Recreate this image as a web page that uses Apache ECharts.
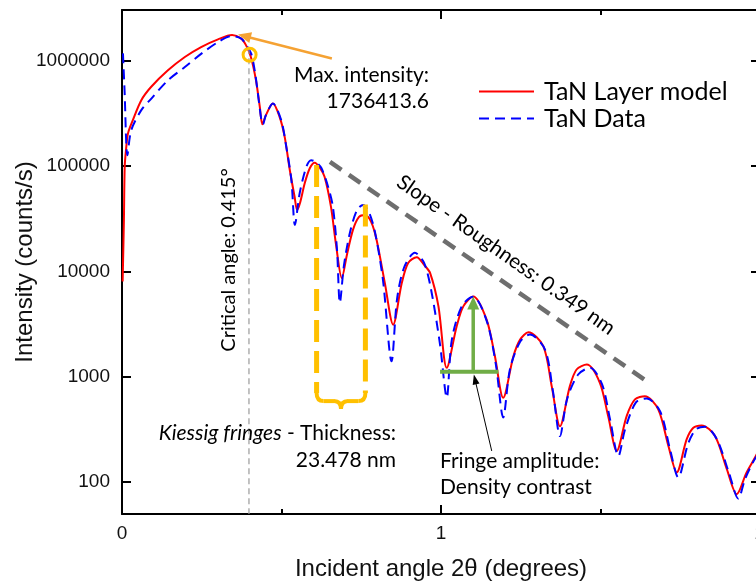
<!DOCTYPE html>
<html>
<head>
<meta charset="utf-8">
<script src="https://cdn.jsdelivr.net/npm/echarts/dist/echarts.min.js"></script>
<style>html,body{margin:0;padding:0;background:#fff}#c{width:756px;height:583px}</style>
</head>
<body>
<div id="c"></div>
<script>
// ---- data ----
const modelX = [0.002,0.006,0.0085,0.0125,0.019,0.034,0.0605,0.091,0.144,0.197,0.248,0.301,0.345,0.373,0.389,0.404,0.420,0.432,0.440,0.451,0.473,0.494,0.510,0.526,0.541,0.549,0.558,0.573,0.589,0.604,0.621,0.635,0.655,0.671,0.689,0.705,0.724,0.743,0.762,0.781,0.798,0.824,0.850,0.877,0.897,0.924,0.947,0.966,0.992,1.018,1.049,1.070,1.101,1.143,1.169,1.195,1.227,1.248,1.274,1.321,1.347,1.373,1.404,1.425,1.457,1.498,1.524,1.551,1.582,1.608,1.639,1.681,1.713,1.739,1.770,1.791,1.817,1.859,1.896,1.927,1.958,1.987,2.0];
const modelY = [8000,30700,98000,141000,204000,271000,419000,559000,804000,1075000,1336000,1580000,1736414,1615000,1386000,1075000,647000,362000,248000,302000,389000,291000,188000,91200,50900,38200,44400,68700,95200,107000,95200,78800,41000,17800,8630,14300,24700,32800,34200,29400,19900,7730,3120,7730,12000,13600,11500,9620,4650,1216,3000,4650,5780,3480,1564,632,1564,2250,2640,1945,815,340,815,1172,1306,877,424,198,424,610,655,490,220,124,255,329,346,274,133,77,124,177,214];

const dataX = [0.003,0.008,0.017,0.029,0.0605,0.092,0.144,0.197,0.249,0.301,0.343,0.374,0.390,0.405,0.416,0.426,0.437,0.442,0.451,0.473,0.499,0.515,0.531,0.542,0.557,0.578,0.593,0.608,0.625,0.646,0.661,0.674,0.683,0.696,0.715,0.737,0.756,0.774,0.793,0.818,0.845,0.862,0.884,0.918,0.947,0.969,0.997,1.018,1.034,1.066,1.101,1.144,1.172,1.195,1.216,1.248,1.279,1.326,1.351,1.373,1.395,1.430,1.467,1.505,1.530,1.556,1.577,1.611,1.645,1.687,1.718,1.744,1.774,1.799,1.828,1.865,1.903,1.932,1.953,1.978,2.0];
const dataY = [1164000,520000,126000,218000,337000,434000,647000,864000,1157000,1490000,1698000,1604000,1386000,1157000,804000,484000,271000,248000,302000,389000,271000,151000,73300,27500,54900,98000,113000,108500,95200,63400,41000,16000,5040,11500,23600,38200,42500,36500,23600,8310,1403,5380,10800,15000,12000,6680,2020,637,2250,4720,5740,3330,1306,412,1172,2150,2510,1810,726,274,610,1050,1216,845,394,177,317,571,622,469,205,111,229,317,336,255,122,70,107,155,196];

const seriesNames = ['TaN Layer model', 'TaN Data'];
const xLabelTicks = [0, 1, 2];
const yLabelTicks = [100, 1000, 10000, 100000, 1000000];

// annotation anchors (in data units)
const critAngleX = 0.398;
const maxRing = [0.400, 1130000];
const maxArrow = [[0.658, 1040000], [0.364, 1760000]];
const kiessigLines = [[0.610, 102000], [0.763, 43000]];
const kiessigBottom = 700;
const slopeLine = [[0.652, 109000], [1.650, 887]];
const greenBar = {y: 1114, x1: 0.997, x2: 1.180, xa: 1.101, top: 5780};
const blackArrow = [[1.159, 198], [1.103, 1050]];

// ---- chart ----
const chart = echarts.init(document.getElementById('c'), null, {renderer: 'canvas'});
const AX = '#000';
const SANS = "'Liberation Sans', Arial, sans-serif";
const CAL = "Lato, 'Open Sans', sans-serif";

const xBase = {
  type: 'value', min: 0, max: 2, interval: 1,
  axisLine: {show: true, onZero: false, lineStyle: {color: AX, width: 2}},
  axisTick: {show: true, inside: true, length: 9, lineStyle: {color: AX, width: 2}},
  minorTick: {show: true, splitNumber: 2, length: 5, lineStyle: {color: AX, width: 2}},
  splitLine: {show: false}, minorSplitLine: {show: false}
};
const yBase = {
  type: 'log', logBase: 10, min: 50, max: 3000000,
  axisLine: {show: true, onZero: false, lineStyle: {color: AX, width: 2}},
  axisTick: {show: true, inside: true, length: 9, lineStyle: {color: AX, width: 2}},
  splitLine: {show: false}
};

const option = {
  animation: false,
  backgroundColor: '#fff',
  grid: {left: 122, right: -4, top: 10, bottom: 69, containLabel: false, outerBoundsMode: 'none'},
  legend: {
    orient: 'vertical', left: 478, top: 79, padding: 0,
    itemWidth: 55, itemHeight: 27, itemGap: 2,
    itemStyle: {opacity: 0},
    textStyle: {fontFamily: CAL, fontSize: 25, color: '#000', padding: [0, 0, 0, 5]},
    data: seriesNames
  },
  xAxis: [
    Object.assign({}, xBase, {
      position: 'bottom',
      axisLabel: {
        fontSize: 19, fontFamily: SANS, color: '#111', margin: 10,
        formatter: v => xLabelTicks.indexOf(Math.round(v * 1000) / 1000) >= 0 ? String(v) : ''
      },
      name: 'Incident angle 2θ (degrees)', nameLocation: 'middle', nameGap: 43, nameMoveOverlap: false,
      nameTextStyle: {fontSize: 24, fontFamily: SANS, color: '#111'}
    }),
    Object.assign({}, xBase, {position: 'top', axisLabel: {show: false}})
  ],
  yAxis: [
    Object.assign({}, yBase, {
      position: 'left',
      axisLabel: {
        fontSize: 19, fontFamily: SANS, color: '#111', margin: 12,
        formatter: v => {
          const r = Math.round(v);
          return yLabelTicks.some(t => Math.abs(t - v) / t < 1e-6) ? String(r) : '';
        }
      },
      name: 'Intensity (counts/s)', nameLocation: 'middle', nameGap: 85, nameMoveOverlap: false,
      nameTextStyle: {fontSize: 24, fontFamily: SANS, color: '#111'}
    }),
    Object.assign({}, yBase, {position: 'right', axisLabel: {show: false}})
  ],
  series: [
    {
      name: seriesNames[0], type: 'line', xAxisIndex: 0, yAxisIndex: 0,
      data: modelX.map((x, i) => [x, modelY[i]]),
      symbol: 'none', showSymbol: false, smooth: 0.3,
      lineStyle: {color: '#FF0000', width: 2}, itemStyle: {color: '#FF0000'}, z: 2
    },
    {
      name: seriesNames[1], type: 'line', xAxisIndex: 0, yAxisIndex: 0,
      data: dataX.map((x, i) => [x, dataY[i]]),
      symbol: 'none', showSymbol: false, smooth: 0.3,
      lineStyle: {color: '#0000FF', width: 2, type: [10, 6]}, itemStyle: {color: '#0000FF'}, z: 3
    }
  ]
};
chart.setOption(option);

// ---- annotations positioned through the chart's own scales ----
const P = (x, y) => chart.convertToPixel({seriesIndex: 0}, [x, y]);
function seg(a, b, stroke, w, dash, z) {
  return {type: 'line', z: z || 20, silent: true,
    shape: {x1: a[0], y1: a[1], x2: b[0], y2: b[1]},
    style: {stroke: stroke, lineWidth: w, lineDash: dash || null, fill: null}};
}
function arrow(from, to, stroke, w, len, wid) {
  const dx = to[0] - from[0], dy = to[1] - from[1];
  const d = Math.hypot(dx, dy), ux = dx / d, uy = dy / d;
  const bx = to[0] - ux * len, by = to[1] - uy * len;
  return [
    seg(from, [bx + ux * 1, by + uy * 1], stroke, w),
    {type: 'polygon', z: 21, silent: true,
      shape: {points: [[to[0], to[1]], [bx - uy * wid / 2, by + ux * wid / 2], [bx + uy * wid / 2, by - ux * wid / 2]]},
      style: {fill: stroke}}
  ];
}
function txt(x, y, text, size, align, rot, extra) {
  return Object.assign({type: 'text', x: x, y: y, rotation: rot || 0, z: 30, silent: true,
    style: {text: text, fontSize: size, fontFamily: CAL, fill: '#000',
      align: align, textAlign: align, verticalAlign: 'middle', textVerticalAlign: 'middle'}}, extra || {});
}

const els = [];
// critical angle
els.push(seg(P(critAngleX, 1300000), P(critAngleX, 50), '#9a9a9a', 1.2, [6, 4], 5));
// ring at critical angle
const rp = P(maxRing[0], maxRing[1]);
els.push({type: 'circle', z: 22, silent: true, shape: {cx: rp[0], cy: rp[1], r: 6.5},
  style: {fill: null, stroke: '#FFC000', lineWidth: 3}});
// max intensity arrow
arrow(P(maxArrow[0][0], maxArrow[0][1]), P(maxArrow[1][0], maxArrow[1][1]), '#F5A233', 2.5, 13, 11).forEach(e => els.push(e));
// Kiessig dashed lines + brace
const kb = kiessigLines.map(k => [P(k[0], k[1]), P(k[0], kiessigBottom)]);
kb.forEach(p => els.push(seg(p[0], p[1], '#FFC000', 5, [22, 9], 6)));
(function brace() {
  const L = kb[0][1][0], R = kb[1][1][0], y0 = kb[0][1][1], M = (L + R) / 2;
  const yb = y0 + 8, yt = y0 + 16, c = '#FFC000', w = 4;
  const bz = (x1, y1, cx, cy, x2, y2) => ({type: 'bezierCurve', z: 6, silent: true,
    shape: {x1: x1, y1: y1, cpx1: cx, cpy1: cy, x2: x2, y2: y2},
    style: {stroke: c, lineWidth: w, fill: null}});
  els.push(bz(L, y0, L, yb, L + 7, yb));
  els.push(seg([L + 7, yb], [M - 7, yb], c, w, null, 6));
  els.push(bz(M - 7, yb, M, yb, M, yt));
  els.push(bz(M, yt, M, yb, M + 7, yb));
  els.push(seg([M + 7, yb], [R - 7, yb], c, w, null, 6));
  els.push(bz(R - 7, yb, R, yb, R, y0));
})();
// slope line
els.push(seg(P(slopeLine[0][0], slopeLine[0][1]), P(slopeLine[1][0], slopeLine[1][1]), '#6E6E6E', 4.5, [14, 9], 7));
// green amplitude marker
els.push(seg(P(greenBar.x1, greenBar.y), P(greenBar.x2, greenBar.y), '#70AD47', 4, null, 8));
arrow(P(greenBar.xa, greenBar.y), P(greenBar.xa, greenBar.top), '#70AD47', 3.5, 13, 12).forEach(e => { e.z = 8; els.push(e); });
// black pointer arrow
arrow(P(blackArrow[0][0], blackArrow[0][1]), P(blackArrow[1][0], blackArrow[1][1]), '#000', 1, 10, 7).forEach(e => els.push(e));

// texts
els.push(txt(429, 75, 'Max. intensity:', 21, 'right'));
els.push(txt(429, 101, '1736413.6', 21, 'right'));
els.push(txt(229, 260, 'Critical angle: 0.415°', 20, 'center', Math.PI / 2));
els.push(txt(506, 255, 'Slope - Roughness: 0.349 nm', 20.5, 'center', -Math.atan2(223, 317)));
els.push({type: 'text', x: 396, y: 433, z: 30, silent: true,
  style: {text: '{i|Kiessig fringes} - Thickness:', fontSize: 21, fontFamily: CAL, fill: '#000',
    align: 'right', textAlign: 'right', verticalAlign: 'middle', textVerticalAlign: 'middle',
    rich: {i: {fontStyle: 'italic', fontSize: 21, fontFamily: CAL, fill: '#000'}}}});
els.push(txt(396, 460, '23.478 nm', 21, 'right'));
els.push(txt(440, 461, 'Fringe amplitude:', 21, 'left'));
els.push(txt(440, 487, 'Density contrast', 21, 'left'));

chart.setOption({graphic: {elements: els}});
</script>
</body>
</html>
